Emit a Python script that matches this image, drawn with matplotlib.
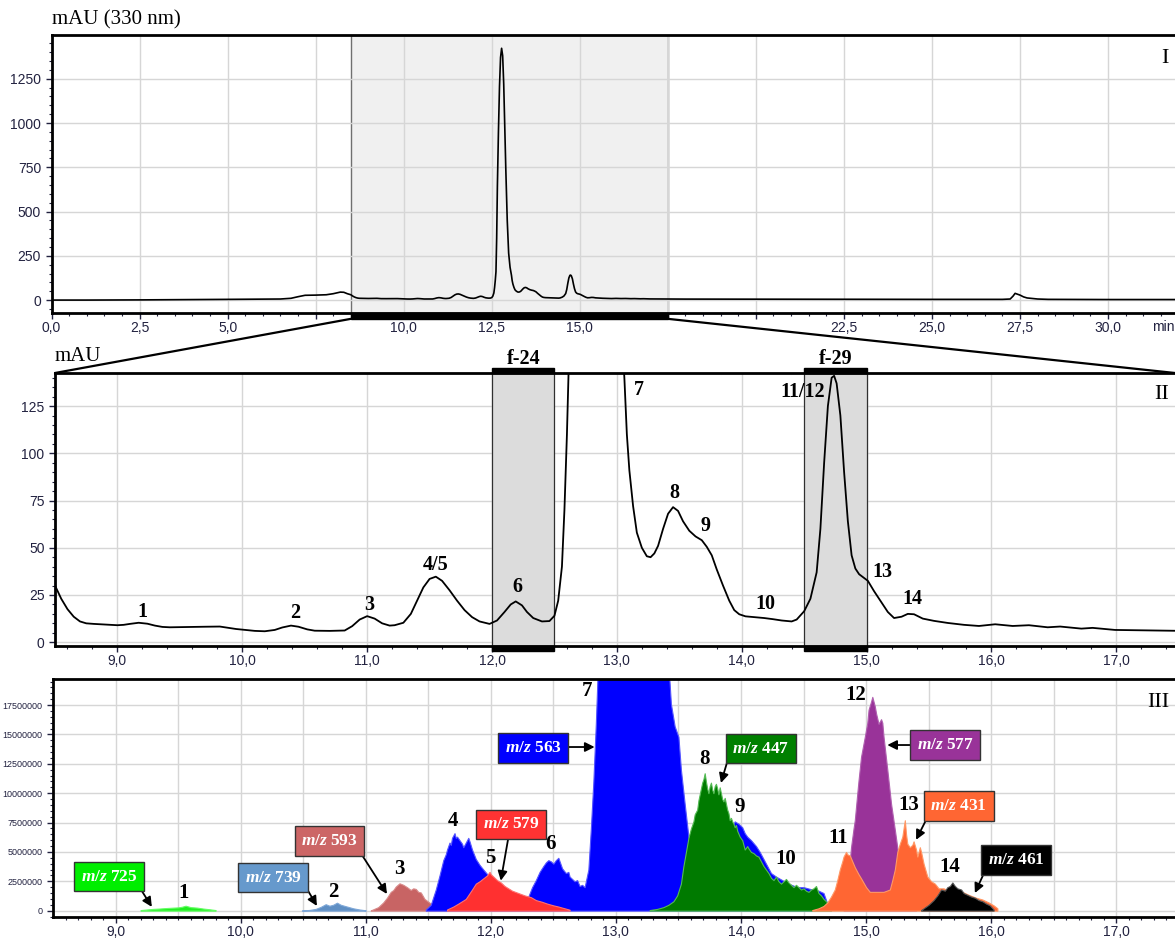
import numpy as np
import matplotlib
matplotlib.use('Agg')
import matplotlib.pyplot as plt
from matplotlib.patches import ConnectionPatch, Rectangle
from matplotlib.ticker import MultipleLocator, FixedLocator, FuncFormatter

# UV trace at 330 nm (min, mAU)
uv_time = [0.0, 1.0, 2.5, 4.0, 5.0, 6.0, 6.5, 6.8, 7.0, 7.2, 7.5, 7.8, 8.0, 8.2, 8.3, 8.4,
           8.5, 8.55, 8.6, 8.65, 8.7, 8.75, 8.81, 9.0, 9.05, 9.1, 9.17, 9.24, 9.3, 9.36, 9.42,
           9.5, 9.7, 9.82, 9.95, 10.1, 10.18, 10.26, 10.32, 10.39, 10.45, 10.52, 10.58,
           10.7, 10.82, 10.88, 10.94, 11.0, 11.06, 11.12, 11.18, 11.22, 11.29, 11.35, 11.4,
           11.45, 11.5, 11.55, 11.6, 11.66, 11.72, 11.78, 11.84, 11.9, 11.98, 12.04, 12.1,
           12.15, 12.19, 12.24, 12.28, 12.33, 12.4, 12.46, 12.5, 12.53, 12.56, 12.58, 12.6,
           12.62, 12.64, 12.66, 12.69, 12.72, 12.75, 12.78, 12.81, 12.84, 12.87, 12.9, 12.94,
           12.98, 13.02, 13.06, 13.08, 13.1, 13.13, 13.16, 13.2, 13.24, 13.27, 13.3, 13.33,
           13.37, 13.41, 13.45, 13.49, 13.53, 13.58, 13.63, 13.68, 13.72, 13.76, 13.8, 13.85,
           13.9, 13.94, 13.98, 14.03, 14.1, 14.18, 14.25, 14.32, 14.4, 14.44, 14.5, 14.55,
           14.6, 14.63, 14.66, 14.69, 14.72, 14.74, 14.76, 14.79, 14.82, 14.85, 14.88, 14.91,
           14.94, 14.98, 15.01, 15.06, 15.12, 15.17, 15.22, 15.28, 15.33, 15.38, 15.45, 15.54,
           15.65, 15.78, 15.9, 16.03, 16.17, 16.3, 16.45, 16.55, 16.72, 16.81, 16.99,
           17.43, 18.0, 20.0, 25.0, 27.0, 27.22, 27.3, 27.36, 27.43, 27.5, 27.6, 27.7, 28.0,
           28.3, 30.0, 32.0]
uv_mau = [0, 0, 1, 3, 4, 5, 6, 10, 19, 27, 28, 30, 36, 45, 44, 36,
          30, 23, 17.5, 13.5, 11, 10, 9.7, 9.0, 9.2, 9.7, 10.3, 9.8, 8.8, 8.1, 7.9,
          8.0, 8.2, 8.3, 7.0, 6.0, 5.8, 6.5, 7.8, 8.8, 8.2, 6.8, 6.1,
          6.0, 6.2, 8.5, 12.0, 13.8, 12.5, 10.0, 8.8, 9.0, 10.3, 15, 22,
          29, 33.5, 34.7, 32.5, 27.5, 22, 17, 13.3, 11, 9.7, 11.5, 16,
          20, 21.6, 19.5, 16, 12.8, 11, 11.2, 14, 22, 40, 70, 110,
          160, 350, 640, 950, 1205, 1370, 1422, 1380, 1220, 980, 734, 450,
          265, 185, 140, 110, 91, 72, 58, 50, 45.5, 45, 47, 51,
          60, 68, 71.5, 69.5, 64, 59, 56, 54, 50.5, 46, 38.5, 30,
          22, 17, 14.8, 13.7, 13.3, 12.8, 12.2, 11.5, 11, 12, 16.4, 23,
          37, 60, 95, 125, 140, 141, 137, 120, 90, 64, 46, 39,
          36, 34, 32.5, 27, 21, 16, 12.8, 13.5, 15, 14.8, 12.5, 11.3,
          10.2, 9.2, 8.6, 9.5, 8.6, 9.0, 7.9, 8.3, 7.2, 7.6, 6.5,
          6.1, 5.5, 5, 4, 4, 6, 22, 38, 33, 28, 18, 12, 6,
          4, 3, 3]

# extracted ion traces (min, counts x 1e6)
ms725_t = [9.2, 9.25, 9.3, 9.35, 9.4, 9.45, 9.5, 9.53, 9.56, 9.6, 9.65, 9.7, 9.75, 9.8]
ms725_i = [0.05, 0.1, 0.15, 0.18, 0.22, 0.25, 0.28, 0.33, 0.42, 0.3, 0.26, 0.18, 0.12, 0.05]

ms739_t = [10.49, 10.55, 10.6, 10.64, 10.68, 10.71, 10.74, 10.77, 10.8, 10.85, 10.9, 10.95, 11.0]
ms739_i = [0.02, 0.06, 0.15, 0.32, 0.55, 0.42, 0.5, 0.68, 0.5, 0.35, 0.2, 0.1, 0.03]

ms593_t = [11.04, 11.1, 11.14, 11.17, 11.2, 11.22, 11.24, 11.27, 11.3, 11.33, 11.36, 11.38,
           11.4, 11.42, 11.44, 11.47, 11.52, 11.57, 11.62, 11.66]
ms593_i = [0.02, 0.3, 0.7, 1.1, 1.6, 1.75, 2.05, 2.33, 2.2, 2.0, 1.76, 1.9,
           1.85, 1.6, 1.55, 1.0, 0.6, 0.4, 0.2, 0.05]

ms563_t = [11.48, 11.52, 11.56, 11.59, 11.62, 11.64, 11.65, 11.67, 11.68, 11.69, 11.71, 11.72,
           11.73, 11.75, 11.77, 11.78, 11.8, 11.82, 11.83, 11.85, 11.88, 11.91, 11.94, 11.98,
           12.05, 12.15, 12.25, 12.3, 12.33, 12.36, 12.39, 12.42, 12.44, 12.46, 12.48, 12.5,
           12.52, 12.54, 12.56, 12.57, 12.6, 12.62, 12.63, 12.67, 12.69, 12.71, 12.73, 12.75,
           12.78, 12.8, 12.82, 12.84, 12.86, 12.9, 13.0, 13.2, 13.42, 13.44, 13.47, 13.5,
           13.52, 13.55, 13.58, 13.62, 13.7, 13.8, 13.9, 13.95, 13.98, 14.01, 14.03, 14.05,
           14.08, 14.12, 14.15, 14.18, 14.21, 14.24, 14.28, 14.33, 14.38, 14.45, 14.5,
           14.57, 14.62, 14.66, 14.69, 14.72]
ms563_i = [0.1, 0.5, 1.8, 3.0, 4.3, 4.8, 5.2, 5.8, 5.6, 6.2, 6.6, 6.2,
           6.3, 6.0, 5.7, 5.4, 5.8, 6.2, 5.9, 5.2, 4.4, 3.9, 3.5, 3.0,
           1.5, 0.8, 0.8, 1.2, 2.0, 2.6, 3.3, 3.8, 4.1, 4.3, 4.2, 4.0,
           4.3, 4.5, 3.9, 3.6, 3.2, 3.3, 2.9, 2.5, 2.6, 2.1, 2.2, 2.0,
           3.5, 7.0, 11.0, 16.0, 22.0, 25.0, 26.0, 26.0, 21.0, 17.6, 15.7, 14.8,
           12.0, 9.1, 6.3, 3.0, 3.5, 5.0, 6.5, 7.6, 7.4, 7.1, 6.6, 6.3,
           6.0, 5.5, 5.0, 4.4, 3.8, 3.2, 2.9, 2.6, 2.3, 2.0, 2.0,
           1.8, 1.7, 1.5, 0.6, 0.1]

ms579_t = [11.65, 11.7, 11.74, 11.8, 11.85, 11.88, 11.91, 11.94, 11.97, 11.99, 12.0, 12.02,
           12.05, 12.08, 12.11, 12.14, 12.17, 12.22, 12.27, 12.32, 12.36, 12.41, 12.45, 12.5,
           12.54, 12.59, 12.63]
ms579_i = [0.1, 0.35, 0.6, 1.0, 1.8, 2.3, 2.5, 2.75, 3.0, 3.3, 3.1, 2.9,
           2.6, 2.4, 2.1, 1.9, 1.7, 1.5, 1.3, 1.15, 0.9, 0.75, 0.6, 0.45,
           0.35, 0.2, 0.08]

ms447_t = [13.27, 13.33, 13.38, 13.42, 13.46, 13.49, 13.52, 13.54, 13.56, 13.58, 13.6, 13.62,
           13.63, 13.65, 13.66, 13.67, 13.68, 13.69, 13.7, 13.71, 13.72, 13.73, 13.74, 13.75,
           13.76, 13.77, 13.78, 13.79, 13.8, 13.81, 13.82, 13.83, 13.84, 13.85, 13.86, 13.87,
           13.88, 13.89, 13.9, 13.91, 13.92, 13.93, 13.94, 13.95, 13.96, 13.97, 13.99, 14.01,
           14.02, 14.03, 14.05, 14.06, 14.08, 14.1, 14.12, 14.14, 14.16, 14.18, 14.2, 14.22,
           14.24, 14.26, 14.28, 14.3, 14.32, 14.34, 14.36, 14.38, 14.4, 14.42, 14.44, 14.46,
           14.48, 14.5, 14.52, 14.54, 14.56, 14.58, 14.6, 14.62, 14.64, 14.66, 14.68, 14.7,
           14.72]
ms447_i = [0.05, 0.15, 0.3, 0.5, 0.8, 1.3, 2.3, 3.8, 5.0, 6.2, 7.0, 7.6,
           8.2, 8.6, 9.4, 9.9, 10.4, 10.9, 11.2, 11.7, 11.0, 10.4, 10.0, 10.6,
           10.9, 10.3, 10.0, 10.6, 10.8, 10.4, 9.9, 10.5, 10.0, 9.5, 9.3, 9.6,
           9.1, 8.6, 8.3, 7.7, 7.9, 7.6, 7.4, 7.1, 7.3, 6.8, 6.3, 6.0,
           5.6, 5.2, 5.5, 5.3, 5.0, 4.9, 4.7, 4.6, 4.2, 3.8, 3.5, 3.2,
           2.8, 2.6, 2.9, 2.5, 2.3, 2.5, 2.7, 2.4, 2.2, 2.0, 2.2, 2.0,
           1.8, 1.9, 1.7, 1.6, 1.8, 1.9, 2.1, 1.5, 1.3, 1.0, 0.8, 0.5,
           0.1]

ms577_t = [14.82, 14.86, 14.88, 14.9, 14.91, 14.93, 14.94, 14.96, 14.99, 15.01, 15.02, 15.04,
           15.05, 15.07, 15.08, 15.1, 15.12, 15.13, 15.14, 15.17, 15.2, 15.23, 15.26, 15.3,
           15.35, 15.4]
ms577_i = [0.5, 3.0, 5.4, 7.0, 7.7, 10.0, 11.1, 13.1, 14.8, 16.0, 17.1, 17.8,
           18.2, 17.4, 16.8, 15.9, 16.3, 16.0, 14.8, 12.0, 9.1, 6.9, 4.6, 2.5,
           1.0, 0.2]

ms431_t = [14.57, 14.62, 14.66, 14.69, 14.72, 14.75, 14.77, 14.79, 14.81, 14.82, 14.84, 14.85,
           14.87, 14.89, 14.91, 14.94, 14.96, 15.0, 15.03, 15.08, 15.14, 15.19, 15.21, 15.23,
           15.25, 15.27, 15.28, 15.29, 15.3, 15.31, 15.32, 15.33, 15.35, 15.37, 15.38, 15.4,
           15.41, 15.43, 15.44, 15.46, 15.49, 15.52, 15.55, 15.58, 15.62, 15.68, 15.75, 15.82,
           15.88, 15.93, 15.98, 16.02, 16.05]
ms431_i = [0.05, 0.2, 0.4, 0.7, 1.2, 1.8, 2.6, 3.5, 4.2, 4.6, 5.0, 4.8,
           4.7, 4.2, 3.7, 3.1, 2.75, 2.0, 1.6, 1.6, 1.6, 1.8, 2.6, 3.5,
           5.0, 5.7, 6.0, 6.3, 7.0, 7.7, 6.5, 5.7, 5.4, 5.6, 5.9, 5.2,
           4.6, 5.4, 5.0, 4.0, 2.9, 2.5, 2.3, 1.9, 1.9, 1.6, 1.7, 1.35,
           1.1, 0.95, 0.7, 0.45, 0.2]

ms461_t = [15.44, 15.5, 15.54, 15.57, 15.6, 15.63, 15.65, 15.67, 15.69, 15.71, 15.73, 15.76,
           15.78, 15.81, 15.84, 15.87, 15.9, 15.93, 15.96, 15.99, 16.02]
ms461_i = [0.05, 0.5, 0.9, 1.3, 1.8, 1.7, 2.0, 2.1, 2.4, 2.1, 1.9, 1.8,
           1.5, 1.35, 1.2, 1.1, 0.9, 0.8, 0.6, 0.45, 0.1]

ion_labels = ['725', '739', '593', '563', '579', '447', '577', '431', '461']

# peak numbers on the UV zoom (label, time, mAU)
uv_peak_labels = ['1', '2', '3', '4/5', '6', '7', '8', '9', '10', '11/12', '13', '14']
uv_peak_x = [9.2, 10.42, 11.02, 11.55, 12.2, 13.18, 13.46, 13.71, 14.19, 14.49, 15.13, 15.37]
uv_peak_y = [16, 15.5, 19.5, 41, 29, 133.5, 79, 61.5, 20, 132.6, 37, 23]

# peak numbers on the ion traces (label, time, counts x 1e6)
ms_peak_labels = ['1', '2', '3', '4', '5', '6', '7', '8', '9', '10', '11', '12', '13', '14']
ms_peak_x = [9.54, 10.74, 11.27, 11.7, 12.0, 12.48, 12.77, 13.71, 13.99, 14.36, 14.78, 14.92, 15.34, 15.67]
ms_peak_y = [1.5, 1.62, 3.55, 7.63, 4.49, 5.68, 18.7, 12.9, 8.85, 4.4, 6.19, 18.4, 9.0, 3.74]

fractions = [(12.0, 12.5, 'f-24'), (14.5, 15.0, 'f-29')]

plt.rcParams['font.family'] = ['Liberation Sans', 'DejaVu Sans']
plt.rcParams['mathtext.fontset'] = 'custom'
plt.rcParams['mathtext.it'] = 'Liberation Serif:italic:bold'
plt.rcParams['mathtext.rm'] = 'Liberation Serif:bold'

SERIF = 'Liberation Serif'
TICKC = '#222240'
GRIDC = '#d6d6d6'

fig = plt.figure(figsize=(11.75, 9.39), dpi=100)
W, H = 1175, 939


def px_axes(left, top, right, bottom):
    return fig.add_axes([left / W, 1 - bottom / H, (right - left) / W, (bottom - top) / H])


def style_axes(ax):
    ax.set_axisbelow(True)
    ax.grid(True, which='major', color=GRIDC, lw=1)
    for s in ['top', 'bottom', 'left']:
        ax.spines[s].set_linewidth(2)
    ax.spines['right'].set_visible(False)
    ax.tick_params(which='major', direction='out', length=4, width=1, colors=TICKC, labelsize=10)
    ax.tick_params(which='minor', direction='out', length=2.5, width=0.8, colors=TICKC)
    ax.tick_params(axis='x', pad=2)


def comma_fmt(v, pos):
    return f'{v:.1f}'.replace('.', ',')


# ---------------- panel I ----------------
ax1 = px_axes(51.5, 35, W, 313)
style_axes(ax1)
ax1.set_xlim(0, 31.9)
ax1.set_ylim(-73, 1497)
ax1.axvspan(8.5, 17.5, facecolor='#f0f0f0', edgecolor='#707070', lw=1, zorder=0.2)
ax1.plot(uv_time, uv_mau, color='black', lw=1.2)
ax1.xaxis.set_major_locator(MultipleLocator(2.5))
ax1.xaxis.set_minor_locator(MultipleLocator(0.5))
ax1.yaxis.set_major_locator(FixedLocator([0, 250, 500, 750, 1000, 1250]))
ax1.yaxis.set_minor_locator(MultipleLocator(50))
ax1.xaxis.set_major_formatter(FuncFormatter(
    lambda v, p: '' if round(v, 1) in (7.5, 17.5, 20.0) else comma_fmt(v, p)))
ax1.yaxis.set_major_formatter(FuncFormatter(lambda v, p: f'{int(v)}'))
ax1.add_patch(Rectangle((8.5, -0.021), 9.0, 0.021, transform=ax1.get_xaxis_transform(),
                        color='black', clip_on=False, zorder=5))
ax1.text(0, 1.054, 'mAU (330 nm)', transform=ax1.transAxes, ha='left', va='center',
         family=SERIF, fontsize=15)
ax1.text(0.994, 0.915, 'I', transform=ax1.transAxes, ha='right', va='center',
         family=SERIF, fontsize=16)
ax1.text(31.25, -0.05, 'min', transform=ax1.get_xaxis_transform(), ha='left', va='center',
         fontsize=10, color=TICKC, clip_on=False)

# ---------------- panel II ----------------
ax2 = px_axes(55, 373, W, 646)
style_axes(ax2)
ax2.set_xlim(8.5, 17.47)
ax2.set_ylim(-2, 142.5)
ax2.plot(uv_time, uv_mau, color='black', lw=1.3, zorder=3)
ax2.xaxis.set_major_locator(MultipleLocator(1))
ax2.xaxis.set_minor_locator(MultipleLocator(0.2))
ax2.yaxis.set_major_locator(MultipleLocator(25))
ax2.yaxis.set_minor_locator(MultipleLocator(5))
ax2.xaxis.set_major_formatter(FuncFormatter(comma_fmt))
bar = 5 / 273
for x0, x1, name in fractions:
    ax2.axvspan(x0, x1, facecolor='#dcdcdc', edgecolor='#303030', lw=0.9, zorder=1)
    for yb in (1.0, -bar):
        ax2.add_patch(Rectangle((x0, yb), x1 - x0, bar, transform=ax2.get_xaxis_transform(),
                                color='black', clip_on=False, zorder=5))
    ax2.text((x0 + x1) / 2, 1.051, name, transform=ax2.get_xaxis_transform(), ha='center',
             va='center', family=SERIF, fontsize=14.5, fontweight='bold')
for lab, x, y in zip(uv_peak_labels, uv_peak_x, uv_peak_y):
    ax2.text(x, y, lab, ha='center', va='center', family=SERIF, fontsize=14.5,
             fontweight='bold', zorder=6)
ax2.text(0, 1.062, 'mAU', transform=ax2.transAxes, ha='left', va='center',
         family=SERIF, fontsize=15)
ax2.text(0.995, 0.92, 'II', transform=ax2.transAxes, ha='right', va='center',
         family=SERIF, fontsize=16)

# zoom connector lines
for xa, xb in [((8.5, -0.021), (0, 1)), ((17.5, -0.021), (1, 1))]:
    con = ConnectionPatch(xyA=xa, coordsA=ax1.get_xaxis_transform(),
                          xyB=xb, coordsB=ax2.transAxes, color='black', lw=1.6)
    fig.add_artist(con)

# ---------------- panel III ----------------
ax3 = px_axes(53, 679, W, 917)
style_axes(ax3)
ax3.set_xlim(8.5, 17.47)
ax3.set_ylim(-0.54e6, 19.72e6)
ax3.xaxis.set_major_locator(MultipleLocator(1))
ax3.yaxis.set_major_locator(MultipleLocator(2.5e6))
ax3.yaxis.set_minor_locator(MultipleLocator(0.5e6))
ax3.xaxis.set_major_formatter(FuncFormatter(comma_fmt))
ax3.yaxis.set_major_formatter(FuncFormatter(lambda v, p: f'{int(round(v))}'))
ax3.tick_params(axis='y', labelsize=6.5)
ax3.set_xticks(np.arange(8.6, 17.5, 0.1), minor=True)
# half-minute grid lines
for xg in np.arange(9.5, 17.5, 1.0):
    ax3.axvline(xg, color=GRIDC, lw=1, zorder=0.5)

traces = [
    (ms725_t, ms725_i, '#22ee22', '#66ff66'),
    (ms739_t, ms739_i, '#5f8fc4', '#7fa8d8'),
    (ms593_t, ms593_i, '#c86464', '#d88a8a'),
    (ms563_t, ms563_i, '#0000ff', '#5555ff'),
    (ms579_t, ms579_i, '#ff3030', '#ff7070'),
    (ms447_t, ms447_i, '#007a00', '#55bb55'),
    (ms577_t, ms577_i, '#993399', '#b060b0'),
    (ms431_t, ms431_i, '#ff6633', '#ff9966'),
    (ms461_t, ms461_i, '#000000', '#555555'),
]
for k, (t, i, fc, ec) in enumerate(traces):
    ax3.fill_between(t, 0, np.array(i) * 1e6, facecolor=fc, edgecolor=ec, lw=0.8, zorder=2 + k * 0.1)

for lab, x, y in zip(ms_peak_labels, ms_peak_x, ms_peak_y):
    ax3.text(x, y * 1e6, lab, ha='center', va='center', family=SERIF, fontsize=15,
             fontweight='bold', zorder=6)
ax3.text(0.995, 0.9, 'III', transform=ax3.transAxes, ha='right', va='center',
         family=SERIF, fontsize=16)

# m/z boxes: centre (min, 1e6), arrow tail, arrow head
box_colors = ['#00ee00', '#6699cc', '#cc6666', '#0000ff', '#ff3333', '#008000', '#993399', '#ff6633', '#000000']
box_pos = [(8.95, 2.88), (10.26, 2.79), (10.71, 5.93), (12.34, 13.85), (12.16, 7.34),
           (14.16, 13.8), (15.63, 14.1), (15.74, 8.91), (16.2, 4.31)]
arrow_tail = [(9.21, 1.68), (10.52, 2.04), (10.97, 4.74), (12.6, 13.93), (12.14, 6.19),
              (13.89, 12.66), (15.37, 14.1), (15.48, 7.72), (15.94, 3.12)]
arrow_head = [(9.29, 0.32), (10.61, 0.4), (11.17, 1.42), (12.83, 13.93), (12.08, 2.55),
              (13.84, 10.87), (15.17, 14.1), (15.4, 6.03), (15.87, 1.5)]
for lab, c, (bx, by), (tx, ty), (hx, hy) in zip(ion_labels, box_colors, box_pos, arrow_tail, arrow_head):
    ax3.annotate('', xy=(hx, hy * 1e6), xytext=(tx, ty * 1e6), zorder=7,
                 arrowprops=dict(arrowstyle='-|>', color='black', lw=1.3,
                                 mutation_scale=14, shrinkA=0, shrinkB=0))
    ax3.text(bx, by * 1e6, r'$m/z$ ' + lab, ha='center', va='center', color='white',
             family=SERIF, fontsize=12.5, fontweight='bold', zorder=8,
             bbox=dict(boxstyle='square,pad=0.38', fc=c, ec='#333333', lw=1))

fig.savefig('out.png', dpi=100)
